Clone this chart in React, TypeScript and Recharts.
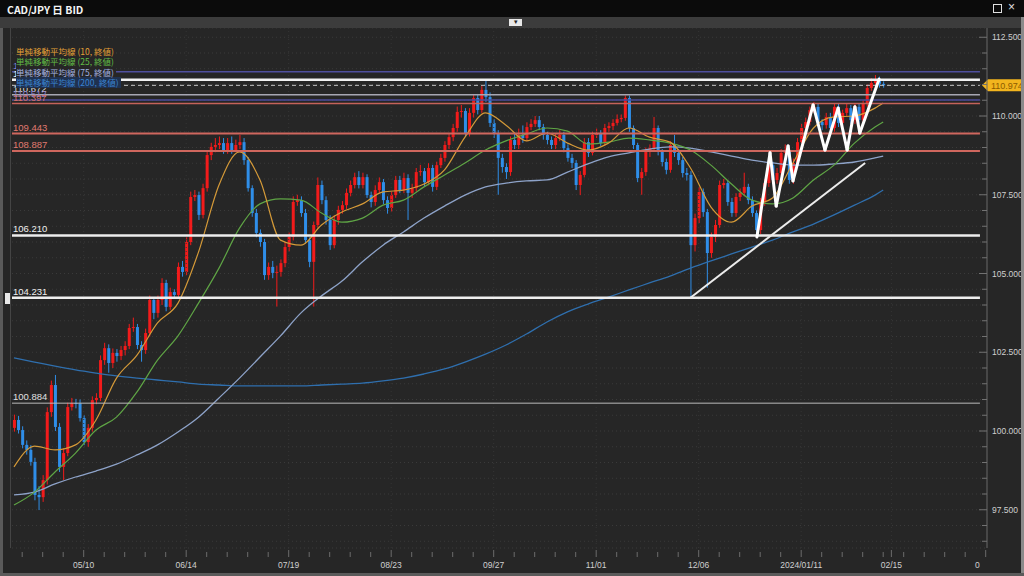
import React from 'react'
import {
  ComposedChart,
  Bar,
  Line,
  XAxis,
  YAxis,
  CartesianGrid,
  ReferenceLine
} from 'recharts'

// layout of the frame
const CHART_W = 1024
const CHART_H = 576
const PLOT_TOP = 28
const PLOT_LEFT = 12
const Y_AXIS_W = 37
const X_AXIS_H = 28
const PLOT_RIGHT = CHART_W - Y_AXIS_W
const PLOT_BOTTOM = CHART_H - X_AXIS_H

const RED = '#f21b1b'
const BLUE = '#2f8ee8'
const NUM_FONT = '"Liberation Sans", "Noto Sans", sans-serif'
const JP_FONT = '"Noto Sans CJK JP", "Noto Sans", sans-serif'

// daily CAD/JPY candles (open = previous close)
const firstOpen = 100.1
const closes = [
  100.35, 100.03, 99.56, 99.4, 99.02, 97.97, 97.9, 98.44, 100.6, 101.46,
  100.13, 98.86, 99.3, 100.76, 100.89, 100.88, 100.41, 99.65, 100.1, 100.98,
  101.05, 102.25, 102.63, 102.16, 102.48, 102.38, 102.57, 102.7, 103.27, 103.3,
  102.73, 102.57, 103.11, 104.16, 103.75, 104.16, 104.7, 103.94, 104.41, 104.32,
  105.21, 105.05, 106.0, 107.43, 107.49, 106.86, 107.71, 108.76, 109.02, 109.08,
  109.14, 108.92, 109.14, 108.92, 109.08, 109.17, 108.6, 107.71, 106.92, 106.29,
  106.0, 104.95, 105.21, 105.02, 105.05, 105.33, 105.84, 106.16, 107.27, 107.33,
  106.92, 106.06, 105.37, 106.54, 107.81, 107.33, 106.7, 105.9, 106.7, 107.02,
  107.17, 107.56, 107.81, 108.06, 107.81, 108.06, 107.49, 107.27, 107.65, 107.9,
  107.33, 107.08, 107.49, 107.97, 107.65, 108.03, 107.56, 107.71, 108.22, 108.25,
  107.9, 108.35, 107.75, 108.44, 108.67, 109.08, 109.33, 109.62, 110.13, 110.16,
  109.46, 110.1, 110.57, 110.19, 110.83, 110.6, 109.78, 109.46, 108.67, 108.38,
  108.22, 109.24, 109.08, 109.4, 109.3, 109.65, 109.75, 109.87, 109.65, 109.4,
  109.24, 109.08, 109.3, 109.4, 108.98, 108.67, 108.51, 107.81, 108.13, 109.17,
  108.83, 109.4, 109.46, 109.14, 109.62, 109.68, 109.78, 109.9, 109.94, 110.57,
  109.62, 109.08, 108.03, 108.22, 108.86, 108.98, 109.62, 108.86, 108.54, 108.29,
  109.08, 108.83, 108.6, 108.19, 108.13, 105.9, 106.76, 107.59, 106.95, 105.65,
  106.16, 106.54, 107.81, 107.87, 107.27, 106.92, 107.43, 107.56, 107.75, 107.33,
  106.92, 106.38, 107.27, 107.87, 108.44, 107.97, 108.19, 108.83, 108.92, 107.97,
  108.51, 109.17, 109.62, 109.81, 110.19, 110.29, 109.81, 109.71, 109.97, 109.62,
  110.29, 109.78, 110.1, 110.25, 109.87, 110.29, 109.87, 110.41, 110.89, 111.05,
  111.14, 111.02, 110.974
]
const highs = [
  100.52, 100.48, 100.15, 99.7, 99.55, 99.15, 98.25, 98.6, 100.75, 101.6,
  101.78, 100.25, 99.45, 100.9, 101.05, 101.02, 101.0, 100.5, 100.22, 101.1,
  101.2, 102.4, 102.8, 102.75, 102.62, 102.6, 102.7, 102.85, 103.4, 103.6,
  103.4, 102.85, 103.25, 104.3, 104.25, 104.3, 104.85, 104.8, 104.55, 104.5,
  105.35, 105.4, 106.15, 107.6, 107.65, 107.6, 107.85, 108.9, 109.15, 109.3,
  109.35, 109.3, 109.3, 109.35, 109.25, 109.4, 109.3, 108.7, 107.8, 107.05,
  106.4, 106.1, 105.35, 105.4, 105.25, 105.45, 106.0, 106.3, 107.45, 107.5,
  107.45, 107.05, 106.15, 106.65, 108.05, 107.95, 107.45, 106.85, 106.85, 107.15,
  107.3, 107.7, 107.95, 108.2, 108.25, 108.2, 108.15, 107.6, 107.8, 108.05,
  108.0, 107.45, 107.6, 108.1, 108.1, 108.2, 108.15, 107.85, 108.35, 108.45,
  108.35, 108.5, 108.45, 108.55, 108.8, 109.2, 109.45, 109.75, 110.3, 110.35,
  110.25, 110.25, 110.7, 110.7, 110.95, 111.14, 110.75, 109.9, 109.55, 108.8,
  108.5, 109.35, 109.45, 109.6, 109.7, 109.8, 109.9, 110.0, 110.0, 109.75,
  109.5, 109.35, 109.45, 109.55, 109.5, 109.1, 108.8, 108.6, 108.25, 109.3,
  109.3, 109.5, 109.6, 109.55, 109.75, 109.8, 109.9, 110.05, 110.05, 110.65,
  110.65, 109.7, 109.15, 108.35, 109.0, 109.1, 109.97, 109.7, 108.95, 108.65,
  109.2, 109.4, 108.95, 108.7, 108.35, 108.25, 106.9, 107.75, 107.7, 107.05,
  106.3, 106.7, 107.95, 108.0, 107.95, 107.4, 107.55, 107.7, 108.2, 107.85,
  107.45, 107.0, 107.4, 108.0, 108.6, 108.55, 108.35, 108.95, 109.1, 109.0,
  108.65, 109.3, 109.75, 109.95, 110.3, 110.45, 110.4, 109.9, 110.1, 110.1,
  110.4, 110.4, 110.2, 110.4, 110.35, 110.4, 110.4, 110.5, 111.0, 111.2,
  111.3, 111.25, 111.1
]
const lows = [
  99.98, 99.92, 99.45, 99.25, 98.9, 97.8, 97.49, 97.75, 98.3, 100.45,
  100.0, 98.7, 98.44, 99.2, 100.65, 100.72, 100.3, 99.55, 99.5, 99.98,
  100.85, 100.95, 102.1, 101.85, 102.0, 102.2, 102.25, 102.4, 102.6, 103.15,
  102.6, 102.2, 102.45, 103.0, 103.55, 103.6, 104.0, 103.8, 103.85, 104.2,
  104.25, 104.9, 104.95, 105.9, 107.3, 106.7, 106.75, 107.6, 108.6, 108.85,
  108.95, 108.8, 108.8, 108.8, 108.85, 108.95, 108.45, 107.6, 106.8, 106.15,
  105.85, 104.8, 104.8, 104.85, 103.95, 104.9, 105.2, 105.7, 106.05, 107.15,
  106.8, 105.95, 105.2, 103.95, 106.45, 107.2, 106.55, 105.75, 105.8, 106.55,
  106.9, 107.05, 107.45, 107.7, 107.7, 107.7, 107.4, 107.1, 107.15, 107.55,
  107.2, 106.9, 106.95, 107.4, 107.55, 107.55, 106.7, 107.4, 107.6, 108.1,
  107.75, 107.8, 107.6, 107.65, 108.35, 108.55, 108.95, 109.2, 109.5, 109.95,
  109.35, 109.35, 109.95, 110.05, 110.1, 110.45, 109.65, 109.3, 107.5, 108.2,
  108.0, 108.1, 108.95, 108.95, 109.15, 109.2, 109.55, 109.65, 109.55, 109.25,
  109.1, 108.95, 108.95, 109.2, 108.85, 108.55, 108.35, 107.65, 107.49, 108.05,
  108.7, 108.75, 109.3, 109.05, 109.05, 109.5, 109.55, 109.7, 109.8, 109.85,
  109.5, 108.95, 107.9, 107.5, 108.1, 108.7, 108.9, 108.75, 108.4, 108.15,
  108.2, 108.7, 108.45, 108.05, 107.95, 104.23, 105.7, 106.6, 106.8, 104.55,
  105.5, 106.0, 106.45, 107.7, 107.15, 106.8, 106.8, 107.3, 107.45, 107.2,
  106.8, 106.22, 106.25, 107.15, 107.75, 107.85, 107.85, 108.1, 108.75, 107.85,
  107.85, 108.4, 109.05, 109.5, 109.7, 110.1, 109.7, 109.55, 109.6, 109.5,
  109.5, 109.65, 109.7, 110.0, 109.75, 109.75, 109.75, 109.8, 110.3, 110.8,
  110.95, 110.9, 110.9
]

// moving averages at every 5th bar (plus the last one)
const maIdx = [
  0, 5, 10, 15, 20, 25, 30, 35, 40, 45, 50, 55, 60, 65, 70, 75, 80, 85, 90, 95, 100, 105,
  110, 115, 120, 125, 130, 135, 140, 145, 150, 155, 160, 165, 170, 175, 180, 185, 190, 195,
  200, 205, 210, 212
]
const ma10 = [
  98.86, 99.52, 99.4, 99.56, 100.35, 101.68, 102.41, 103.43, 104.06, 105.68, 107.81, 108.86,
  107.97, 106.06, 105.9, 106.54, 106.95, 107.21, 107.59, 107.65, 107.84, 108.29, 109.33,
  110.1, 109.71, 109.21, 109.46, 109.14, 108.92, 109.14, 109.62, 109.33, 109.17, 108.35,
  107.11, 106.63, 107.14, 107.4, 108.51, 109.62, 109.97, 110.0, 110.25, 110.41
]
const ma25 = [
  97.65, 98.06, 98.7, 99.3, 100.03, 100.44, 101.24, 102.25, 103.02, 104.06, 105.17, 106.44,
  107.21, 107.37, 107.33, 106.92, 106.63, 106.76, 107.17, 107.33, 107.75, 108.13, 108.51,
  108.92, 109.21, 109.43, 109.62, 109.52, 109.11, 109.17, 109.3, 109.24, 109.14, 108.92,
  108.44, 107.84, 107.33, 107.21, 107.4, 107.97, 108.44, 109.14, 109.65, 109.81
]
const ma75 = [
  97.97, 98.06, 98.32, 98.54, 98.73, 98.95, 99.24, 99.56, 99.97, 100.44, 101.05, 101.68,
  102.35, 103.02, 103.75, 104.29, 104.76, 105.37, 105.9, 106.32, 106.76, 107.14, 107.49,
  107.75, 107.87, 107.94, 107.97, 108.22, 108.48, 108.7, 108.83, 108.95, 109.02, 108.98,
  108.86, 108.73, 108.6, 108.51, 108.44, 108.44, 108.48, 108.54, 108.67, 108.73
]
const ma200 = [
  102.32, 102.19, 102.06, 101.94, 101.84, 101.75, 101.68, 101.62, 101.56, 101.49, 101.46,
  101.43, 101.43, 101.43, 101.43, 101.46, 101.49, 101.52, 101.59, 101.68, 101.81, 101.97,
  102.19, 102.44, 102.73, 103.08, 103.46, 103.78, 104.03, 104.25, 104.48, 104.7, 104.92,
  105.17, 105.4, 105.62, 105.84, 106.06, 106.32, 106.57, 106.86, 107.17, 107.49, 107.65
]

// horizontal price levels drawn on the chart
const levelValues = [111.405, 111.148, 110.672, 110.512, 110.397, 109.443, 108.887, 106.21, 104.231, 100.884]
const currentPrice = 110.974

// hand-drawn annotations (bar index, price)
const zigIdx = [181.2, 184.4, 185.9, 188.8, 190.0, 194.9, 197.8, 201.0, 203.2, 205.1, 206.3, 211.0]
const zigPrice = [106.16, 108.83, 107.14, 109.05, 107.94, 110.35, 108.92, 110.25, 108.92, 110.29, 109.46, 111.17]
const trendIdx = [164.9, 207.6]
const trendPrice = [104.22, 108.51]

// axis labels
const dateTickIdx = [17, 42, 67, 92, 117, 142, 167, 192, 214, 237]
const dateLabels = ['05/10', '06/14', '07/19', '08/23', '09/27', '11/01', '12/06', '2024/01/11', '02/15', '03/21']
const majorPriceTicks = [97.5, 100, 102.5, 105, 107.5, 110, 112.5]

const legendItems = [
  { name: '単純移動平均線 (10, 終値)', key: 'ma10', color: '#e3a137' },
  { name: '単純移動平均線 (25, 終値)', key: 'ma25', color: '#62bd45' },
  { name: '単純移動平均線 (75, 終値)', key: 'ma75', color: '#a3b3e2' },
  { name: '単純移動平均線 (200, 終値)', key: 'ma200', color: '#3a84d0' }
]

const levelStyles = [
  { stroke: '#4f4f9e', width: 1.5, text: '#7d7dd0' },
  { stroke: '#f2f2f2', width: 2.5, text: '#f0f0f0' },
  { stroke: '#a7a7b3', width: 1.5, text: '#dddddd' },
  { stroke: '#4c4c9c', width: 1.5, text: '#8a7cc8' },
  { stroke: '#c4625a', width: 1.5, text: '#d67168' },
  { stroke: '#cf675e', width: 2, text: '#e07a70' },
  { stroke: '#cf675e', width: 2, text: '#e07a70' },
  { stroke: '#ededed', width: 2.5, text: '#f0f0f0' },
  { stroke: '#ededed', width: 2.5, text: '#f0f0f0' },
  { stroke: '#b9b9b9', width: 1, text: '#e0e0e0' }
]

const X_DOMAIN: [number, number] = [-0.488, 237.32]
const Y_DOMAIN: [number, number] = [96.286, 112.794]
const LINE_END = 235.6

const rows = closes.map((close, i) => {
  const open = i === 0 ? firstOpen : closes[i - 1]
  const row: any = {
    i,
    open,
    close,
    high: highs[i],
    low: lows[i],
    range: [lows[i], highs[i]],
    ma10: null,
    ma25: null,
    ma75: null,
    ma200: null
  }
  return row
})
maIdx.forEach((idx, k) => {
  rows[idx].ma10 = ma10[k]
  rows[idx].ma25 = ma25[k]
  rows[idx].ma75 = ma75[k]
  rows[idx].ma200 = ma200[k]
})

const minorDateTicks = Array.from({ length: 48 }, (_, k) => 2 + 5 * k)
const xTicks = Array.from(new Set([...minorDateTicks, ...dateTickIdx])).sort((a, b) => a - b)
const yTicks = Array.from({ length: 33 }, (_, k) => 96.5 + k * 0.5)

const Candle = (props: any) => {
  const { x, y, width, height, payload } = props
  if (!payload || height == null || isNaN(y)) return null
  const { open, close, high, low } = payload
  const top = Math.min(y, y + height)
  const h = Math.abs(height)
  const span = high - low || 1
  const toY = (v: number) => top + ((high - v) / span) * h
  const color = close >= open ? RED : BLUE
  const bodyTop = toY(Math.max(open, close))
  const bodyBot = toY(Math.min(open, close))
  const cx = x + width / 2
  return (
    <g>
      <line x1={cx} x2={cx} y1={top} y2={top + h} stroke={color} strokeWidth={1} />
      <rect x={x} y={bodyTop} width={width} height={Math.max(1, bodyBot - bodyTop)} fill={color} />
    </g>
  )
}

const PriceTick = (props: any) => {
  const { y, payload } = props
  const v = payload.value
  const major = majorPriceTicks.some((m) => Math.abs(m - v) < 1e-6)
  return (
    <g>
      <line x1={PLOT_RIGHT - (major ? 8 : 5)} x2={PLOT_RIGHT} y1={y} y2={y} stroke="#727272" />
      {major && (
        <text x={PLOT_RIGHT + 5} y={y + 3} fill="#cfcfcf" fontSize={8.5} fontFamily={NUM_FONT}>
          {v.toFixed(3)}
        </text>
      )}
    </g>
  )
}

const DateTick = (props: any) => {
  const { x, payload } = props
  const k = dateTickIdx.indexOf(payload.value)
  const labelled = k >= 0
  return (
    <g>
      <clipPath id={`xclip-${payload.value}`}>
        <rect x={0} y={PLOT_BOTTOM} width={PLOT_RIGHT - 7} height={X_AXIS_H} />
      </clipPath>
      <line
        x1={x}
        x2={x}
        y1={PLOT_BOTTOM + (labelled ? 2 : 4)}
        y2={PLOT_BOTTOM + 9}
        stroke="#6c6c6c"
      />
      {labelled && (
        <text
          x={x}
          y={PLOT_BOTTOM + 20}
          textAnchor="middle"
          fill="#d0d0d0"
          fontSize={8.5}
          fontFamily={NUM_FONT}
          clipPath={`url(#xclip-${payload.value})`}
        >
          {dateLabels[k]}
        </text>
      )}
    </g>
  )
}

const LevelLabel = (props: any) => {
  const { viewBox, text, color } = props
  if (!viewBox) return null
  return (
    <text x={PLOT_LEFT + 1} y={viewBox.y - 3} fill={color} fontSize={9.5} fontFamily={NUM_FONT}>
      {text}
    </text>
  )
}

const PriceTag = (props: any) => {
  const { viewBox } = props
  if (!viewBox) return null
  const y = viewBox.y
  const x0 = PLOT_RIGHT - 5
  return (
    <g>
      <polygon
        points={`${x0},${y} ${x0 + 6},${y - 6} ${CHART_W - 1},${y - 6} ${CHART_W - 1},${y + 6} ${x0 + 6},${y + 6}`}
        fill="#f2b51e"
      />
      <text x={x0 + 9} y={y + 3.5} fill="#8c5a00" fontSize={9} fontFamily={NUM_FONT}>
        {currentPrice.toFixed(3)}
      </text>
    </g>
  )
}

export default function App() {
  return (
    <div
      style={{
        position: 'absolute',
        left: 0,
        top: 0,
        width: CHART_W,
        height: CHART_H,
        background: '#262626',
        overflow: 'hidden'
      }}
    >
      <ComposedChart
        width={CHART_W}
        height={CHART_H}
        data={rows}
        margin={{ top: PLOT_TOP, right: 0, bottom: 0, left: PLOT_LEFT }}
      >
        <CartesianGrid vertical={false} stroke="#3a3a3a" strokeDasharray="1 3" />
        <XAxis
          dataKey="i"
          type="number"
          domain={X_DOMAIN}
          allowDataOverflow
          ticks={xTicks}
          interval={0}
          height={X_AXIS_H}
          axisLine={false}
          tickLine={false}
          tick={<DateTick />}
        />
        <YAxis
          orientation="right"
          type="number"
          domain={Y_DOMAIN}
          allowDataOverflow
          ticks={yTicks}
          interval={0}
          width={Y_AXIS_W}
          axisLine={{ stroke: '#686868' }}
          tickLine={false}
          tick={<PriceTick />}
        />
        {dateTickIdx.slice(0, -1).map((t) => (
          <ReferenceLine key={`vg-${t}`} x={t} stroke="#353535" strokeDasharray="1 3" />
        ))}
        <Bar dataKey="range" barSize={3} shape={<Candle />} isAnimationActive={false} />
        <Line type="monotone" dataKey="ma200" stroke="#2f6fae" strokeWidth={1.3} dot={false} connectNulls isAnimationActive={false} />
        <Line type="monotone" dataKey="ma75" stroke="#8ea3c9" strokeWidth={1.3} dot={false} connectNulls isAnimationActive={false} />
        <Line type="monotone" dataKey="ma25" stroke="#5fa545" strokeWidth={1.2} dot={false} connectNulls isAnimationActive={false} />
        <Line type="monotone" dataKey="ma10" stroke="#d59a38" strokeWidth={1.2} dot={false} connectNulls isAnimationActive={false} />
        {levelValues.map((v, k) => (
          <ReferenceLine
            key={`lv-${v}`}
            segment={[
              { x: X_DOMAIN[0], y: v },
              { x: LINE_END, y: v }
            ]}
            stroke={levelStyles[k].stroke}
            strokeWidth={levelStyles[k].width}
            label={<LevelLabel text={v.toFixed(3)} color={levelStyles[k].text} />}
          />
        ))}
        <ReferenceLine
          segment={[
            { x: X_DOMAIN[0], y: currentPrice },
            { x: LINE_END, y: currentPrice }
          ]}
          stroke="#c4c4c4"
          strokeDasharray="4 3"
          strokeWidth={1}
          label={<PriceTag />}
        />
        <ReferenceLine
          segment={[
            { x: trendIdx[0], y: trendPrice[0] },
            { x: trendIdx[1], y: trendPrice[1] }
          ]}
          stroke="#ececec"
          strokeWidth={2}
        />
        {zigIdx.slice(1).map((x, k) => (
          <ReferenceLine
            key={`zz-${k}`}
            segment={[
              { x: zigIdx[k], y: zigPrice[k] },
              { x, y: zigPrice[k + 1] }
            ]}
            stroke="#ffffff"
            strokeWidth={3}
            strokeLinecap="round"
          />
        ))}
      </ComposedChart>

      {/* window chrome */}
      <div style={{ position: 'absolute', left: 0, top: 0, width: CHART_W, height: 17, background: '#0b0b0b' }}>
        <span
          style={{
            position: 'absolute',
            left: 7,
            top: 2,
            color: '#f4f4f4',
            fontSize: 10.5,
            fontWeight: 'bold',
            fontFamily: JP_FONT
          }}
        >
          CAD/JPY 日 BID
        </span>
        <span style={{ position: 'absolute', left: 993, top: 4, width: 7, height: 7, border: '1px solid #e0e0e0' }} />
        <span style={{ position: 'absolute', left: 1008, top: 0, color: '#e0e0e0', fontSize: 12, fontFamily: NUM_FONT }}>
          ×
        </span>
      </div>
      <div style={{ position: 'absolute', left: 0, top: 17, width: CHART_W, height: 11, background: '#3c3c3c' }}>
        <span
          style={{
            position: 'absolute',
            left: 509,
            top: 2,
            width: 13,
            height: 7,
            background: '#e8e8e8',
            color: '#222',
            fontSize: 7,
            lineHeight: '7px',
            textAlign: 'center'
          }}
        >
          ▾
        </span>
      </div>
      <div style={{ position: 'absolute', left: 0, top: 28, width: 3, height: CHART_H - 28, background: '#5a5a5a' }} />
      <div style={{ position: 'absolute', left: 10, top: 28, width: 1, height: PLOT_BOTTOM - 28, background: '#444' }} />
      <div style={{ position: 'absolute', left: 5, top: 293, width: 5, height: 11, background: '#e8e8e8' }} />
      <div style={{ position: 'absolute', left: CHART_W - 3, top: 17, width: 3, height: CHART_H - 17, background: '#8a8a8a' }} />
      <div style={{ position: 'absolute', left: 0, top: CHART_H - 3, width: CHART_W, height: 3, background: '#5a5a5a' }} />

      {/* indicator legend, drawn opaque over the level labels as in the terminal */}
      <div style={{ position: 'absolute', left: 16, top: 46 }}>
        {legendItems.map((item, k) => (
          <div
            key={item.key}
            style={{
              color: item.color,
              fontSize: 8.5,
              lineHeight: '10.4px',
              fontFamily: JP_FONT,
              whiteSpace: 'nowrap',
              background: k === 3 ? '#1f3150' : '#262626',
              paddingRight: 2,
              display: 'table'
            }}
          >
            {item.name}
          </div>
        ))}
      </div>
    </div>
  )
}
